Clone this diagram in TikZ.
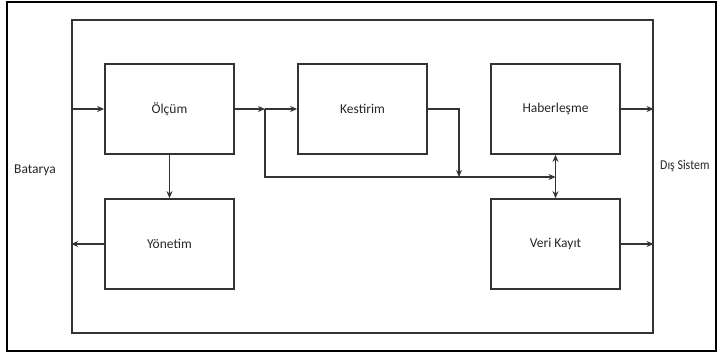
\documentclass[tikz,border=0pt]{standalone}
\usepackage{fontspec}
\setmainfont{Carlito}
\usetikzlibrary{arrows.meta}
\begin{document}
\begin{tikzpicture}[x=1pt,y=-1pt,
  block/.style={draw=black!80,line width=1.7pt,minimum width=129pt,minimum height=90pt,
    inner sep=0pt,font=\fontsize{13.5}{16}\selectfont,text=black!85},
  link/.style={draw=black!80,line width=1.7pt,-{Stealth[length=7pt,width=6pt]}},
  lbl/.style={font=\fontsize{13.5}{16}\selectfont,text=black!85,inner sep=0pt}]
\useasboundingbox (0,0) rectangle (717,354);
% outer frame
\draw[line width=2.4pt] (7,2) rectangle (716,351);
% system boundary
\node[draw=black!80,line width=1.7pt,minimum width=580.7pt,minimum height=313pt,inner sep=0pt]
  (sys) at (362.35,176.5) {};
% blocks
\node[block] (olcum) at (169.5,109) {Ölçüm};
\node[block] (kest) at (362.5,109) {Kestirim};
\node[block] (hab) at (555.5,109) {Haberleşme};
\node[block] (yon) at (169.5,244) {Yönetim};
\node[block] (veri) at (555.5,244) {Veri Kayıt};
% side labels
\node[lbl,anchor=west] (bat) at (14,170) {Batarya};
\node[lbl,anchor=west] (dis) at (660,166) {\scalebox{0.88}[1]{Dış Sistem}};
% junction points
\coordinate (br) at (265,109);
\coordinate (brd) at (265,177);
\coordinate (kr) at (459,109);
\coordinate (kd) at (459,177);
\coordinate (bus) at (555.5,177);
% connectors
\draw[link] (sys.west |- olcum) -- (olcum.west);
\draw[link] (olcum.east) -- (br);
\draw[link] (br) -- (kest.west);
\draw[link] (br) -- (brd) -- (bus);
\draw[link] (kest.east) -- (kr) -- (kd);
\draw[link,{Stealth[length=7pt,width=6pt]}-{Stealth[length=7pt,width=6pt]}] (hab.south) -- (veri.north);
\draw[link] (olcum.south) -- (yon.north);
\draw[link] (yon.west) -- (sys.west |- yon);
\draw[link] (hab.east) -- (sys.east |- hab);
\draw[link] (veri.east) -- (sys.east |- veri);
\end{tikzpicture}
\end{document}
